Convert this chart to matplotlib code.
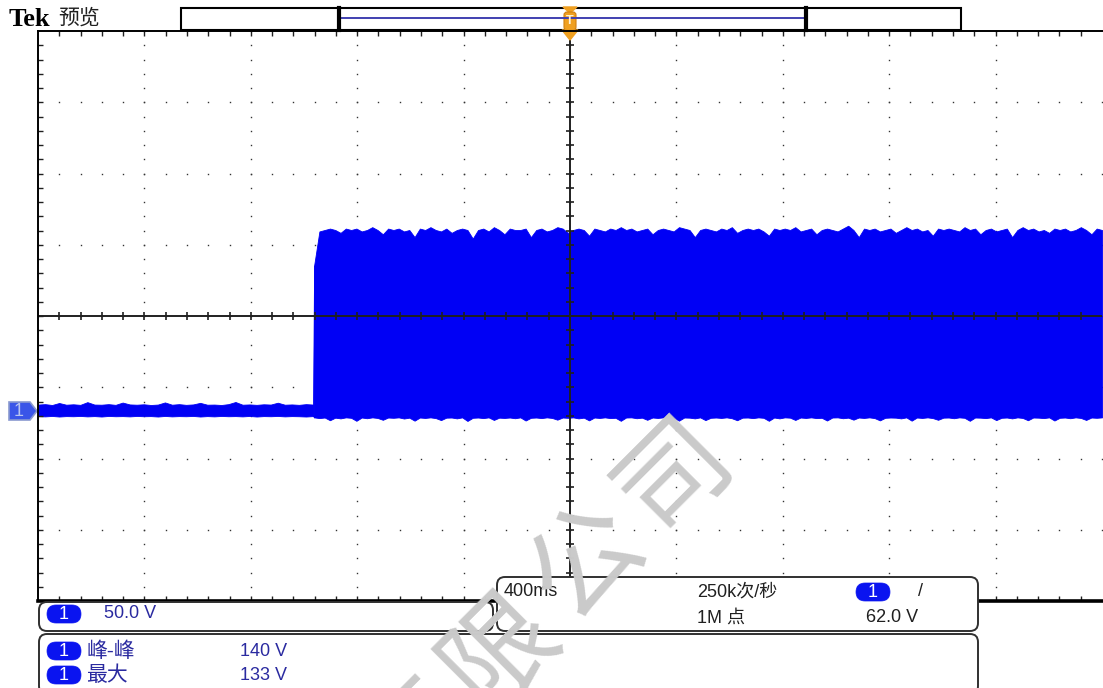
import numpy as np
import matplotlib
matplotlib.use("Agg")
import matplotlib.pyplot as plt
from matplotlib.patches import Rectangle, FancyBboxPatch, Polygon
from matplotlib.markers import TICKUP, TICKDOWN, TICKRIGHT

plt.rcParams['font.family'] = ['Liberation Sans', 'Noto Sans CJK SC', 'DejaVu Sans']

# scope settings
volts_per_div = 50.0
sec_per_div = 0.4
ground_div = -1.333          # ground marker sits 1.33 div below centre
step_time = -0.966           # burst starts here (s)

# channel 1 envelope, volts
pre_hi = [4.5, 4.8, 4.2, 5.6, 4.4, 4.7, 4.3, 6.2, 4.5, 4.4, 4.8, 4.3, 5.9, 4.6, 4.4,
          4.7, 4.2, 4.5, 6.0, 4.4, 4.8, 4.3, 4.6, 5.7, 4.4, 4.5, 4.2, 4.8, 6.3, 4.4,
          4.6, 4.3, 4.7, 4.5, 5.8, 4.4, 4.6, 4.3, 4.8, 4.5]
pre_lo = [-3.6, -3.8, -3.5, -3.9, -3.6, -3.7, -3.5, -3.8, -3.6, -3.9, -3.5, -3.7, -3.6, -3.8, -3.5,
          -3.7, -3.6, -3.9, -3.5, -3.8, -3.6, -3.7, -3.5, -3.9, -3.6, -3.8, -3.5, -3.7, -3.6, -3.8,
          -3.5, -3.9, -3.6, -3.7, -3.5, -3.8, -3.6, -3.7, -3.9, -3.6]
burst_hi = [
    102, 126, 127, 128, 127, 125, 128, 127, 128, 126, 127, 129, 127, 124, 128,
    127, 128, 126, 127, 122, 128, 127, 129, 127, 126, 128, 125, 127, 128, 127,
    121, 127, 128, 126, 129, 127, 124, 128, 127, 127, 128, 122, 127, 128, 126,
    127, 129, 128, 125, 127, 128, 127, 123, 128, 127, 126, 128, 127, 129, 127,
    128, 126, 127, 128, 124, 127, 128, 127, 126, 129, 128, 127, 122, 127, 128,
    127, 126, 128, 127, 129, 125, 127, 128, 127, 128, 126, 123, 128, 127, 128,
    127, 129, 126, 127, 128, 124, 127, 128, 127, 126, 128, 130, 127, 122, 128,
    127, 128, 126, 127, 128, 125, 127, 129, 127, 128, 126, 127, 123, 128, 127,
    128, 127, 126, 129, 127, 128, 124, 127, 128, 126, 127, 128, 122, 127, 129,
    127, 128, 126, 127, 125, 128, 127, 128, 126, 127, 129, 127, 124, 128, 127,
]
burst_lo = [
    -4.5, -5.0, -4.6, -6.5, -4.7, -5.2, -4.5, -4.8, -6.9, -4.6, -5.1, -4.5, -4.9, -6.2, -4.6,
    -4.8, -4.5, -5.3, -4.7, -6.8, -4.6, -4.9, -4.5, -5.0, -6.4, -4.7, -4.6, -5.2, -4.5, -7.0,
    -4.8, -4.6, -5.0, -4.5, -6.3, -4.7, -4.9, -4.6, -5.1, -4.5, -6.7, -4.8, -4.6, -5.0, -4.5,
    -4.9, -6.1, -4.6, -4.8, -4.5, -5.2, -4.7, -6.6, -4.6, -4.9, -4.5, -5.0, -4.8, -6.9, -4.6,
    -4.5, -5.1, -4.7, -6.2, -4.6, -4.9, -4.5, -5.0, -4.8, -6.8, -4.6, -4.7, -5.2, -4.5, -6.4,
    -4.8, -4.6, -4.9, -4.5, -5.1, -6.5, -4.7, -4.6, -5.0, -4.5, -4.8, -6.9, -4.6, -5.2, -4.5,
    -4.7, -6.3, -4.6, -4.9, -4.5, -5.0, -4.8, -6.7, -4.6, -4.5, -5.1, -4.7, -6.1, -4.6, -4.9,
    -4.5, -5.0, -6.6, -4.8, -4.6, -4.7, -5.2, -4.5, -6.8, -4.6, -4.9, -4.5, -5.0, -6.2, -4.7,
    -4.6, -5.1, -4.5, -4.8, -6.9, -4.6, -4.7, -5.0, -4.5, -6.4, -4.8, -4.6, -5.2, -4.5, -4.9,
    -6.5, -4.6, -4.7, -5.0, -4.5, -6.7, -4.8, -4.6, -5.1, -4.5, -4.9, -6.3, -4.6, -4.8, -4.5,
]

# readouts
ch_scale = "50.0 V"
meas_names = ["峰-峰", "最大"]
meas_values = ["140 V", "133 V"]
timebase = "400ms"
sample_rate = "250k次/秒"
record_len = "1M 点"
trig_level = "62.0 V"
watermark = "有限公司"

W, H = 1103, 688
fig = plt.figure(figsize=(W / 100, H / 100), dpi=100)

# graticule area in pixels
gx0, gy0, gw, gh = 38, 31, 1064, 570
ax = fig.add_axes([gx0 / W, 1 - (gy0 + gh) / H, gw / W, gh / H])
ax.set_zorder(1)
ax.set_xlim(-5 * sec_per_div, 5 * sec_per_div)
ax.set_ylim((-4 - ground_div) * volts_per_div, (4 - ground_div) * volts_per_div)
for s in ax.spines.values():
    s.set_visible(False)
ax.set_xticks([])
ax.set_yticks([])

xc = 0.0
yc = -ground_div * volts_per_div
xmaj = np.arange(-5, 6) * sec_per_div
ymaj = yc + np.arange(-4, 5) * volts_per_div
xmin_ = np.arange(-25, 26) * sec_per_div / 5
ymin_ = yc + np.arange(-20, 21) * volts_per_div / 5

# dotted graticule
dot = dict(color='#333333', marker='s', markersize=1.0, markeredgewidth=0,
           linestyle='none', zorder=1)
for x in xmaj[1:-1]:
    ax.plot(np.full(len(ymin_), x), ymin_, **dot)
for y in ymaj[1:-1]:
    ax.plot(xmin_, np.full(len(xmin_), y), **dot)

# waveform
t_pre = np.linspace(-5 * sec_per_div, step_time, len(pre_hi))
t_burst = np.linspace(step_time + 0.004, 5 * sec_per_div, len(burst_hi))
blue = '#0000f5'
ax.fill_between(t_pre, pre_lo, pre_hi, color=blue, lw=0.6, zorder=2)
ax.fill_between(t_burst, burst_lo, burst_hi, color=blue, lw=0.6, zorder=2)
ax.fill_between([t_pre[-1], t_burst[0]], [pre_lo[-1], burst_lo[0]], [pre_hi[-1], burst_hi[0]],
                color=blue, lw=0.6, zorder=2)

# centre crosshair with minor ticks
ax.axhline(yc, color='#202020', lw=1.4, zorder=3)
ax.axvline(xc, color='#202020', lw=1.4, zorder=3)
ax.plot(xmin_[1:-1], np.full(len(xmin_) - 2, yc), color='#202020', marker='|',
        markersize=6, markeredgewidth=1.2, linestyle='none', zorder=3)
ax.plot(np.full(len(ymin_) - 2, xc), ymin_[1:-1], color='#202020', marker='_',
        markersize=6, markeredgewidth=1.2, linestyle='none', zorder=3)
# edge ticks pointing inward
ylo, yhi = ax.get_ylim()
xlo, xhi = ax.get_xlim()
edge = dict(color='#202020', markersize=3.5, markeredgewidth=1.0, linestyle='none',
            zorder=3, clip_on=False)
ax.plot(xmin_[1:-1], np.full(len(xmin_) - 2, yhi), marker=TICKDOWN, **edge)
ax.plot(xmin_[1:-1], np.full(len(xmin_) - 2, ylo), marker=TICKUP, **edge)
ax.plot(np.full(len(ymin_) - 2, xlo), ymin_[1:-1], marker=TICKRIGHT, **edge)

# overlay in pixel coordinates
deco = fig.add_axes([0, 0, 1, 1])
deco.set_zorder(2)
deco.patch.set_alpha(0)
deco.set_xlim(0, W)
deco.set_ylim(H, 0)
deco.axis('off')

# graticule borders
deco.plot([gx0, W], [gy0, gy0], color='black', lw=1.4)
deco.plot([gx0, gx0], [gy0, gy0 + gh], color='black', lw=1.4)
deco.plot([gx0, W], [gy0 + gh, gy0 + gh], color='black', lw=2.6)

# title
deco.text(9, 20, "Tek", fontsize=19, fontweight='bold', family='Liberation Serif',
          va='center', ha='left')
deco.text(58, 18, "预览", fontsize=15, family='Noto Sans CJK SC', va='center', ha='left',
          color='#202020')

# record view bar
deco.add_patch(Rectangle((181, 8), 780, 22, fill=False, ec='black', lw=1.5))
deco.plot([340, 806], [18, 18], color='#4040b0', lw=1.4)
deco.plot([339, 339], [8, 30], color='black', lw=3)
deco.plot([806, 806], [8, 30], color='black', lw=3)

# trigger position marker
orange = '#f0a020'
deco.add_patch(Polygon([(563, 7), (577, 7), (570, 13)], color=orange))
deco.add_patch(FancyBboxPatch((564, 12), 12, 18, boxstyle='round,pad=0,rounding_size=3',
                              fc=orange, ec='#d08010', lw=0.8))
deco.text(570, 21.5, "T", fontsize=9, color='#fff4d8', ha='center', va='center', fontweight='bold')
deco.add_patch(Polygon([(562, 30), (578, 30), (570, 40)], color=orange))

# ground marker
deco.add_patch(Polygon([(9, 402), (30, 402), (37, 411), (30, 420), (9, 420)],
                       fc='#3a55e8', ec='#8a9ad0', lw=1.2))
deco.text(19, 411.5, "1", fontsize=13, color='#b8c4f0', ha='center', va='center')

# readout boxes
def rbox(x, y, w, h):
    deco.add_patch(FancyBboxPatch((x, y), w, h, boxstyle='round,pad=0,rounding_size=8',
                                  fc='white', ec='#303030', lw=1.4, zorder=3))

def badge(x, y):
    deco.add_patch(FancyBboxPatch((x, y - 9), 34, 18, boxstyle='round,pad=0,rounding_size=9',
                                  fc='#0a14f0', ec='#0a14f0', lw=0.5, zorder=4))
    deco.text(x + 17, y + 0.5, "1", fontsize=13, color='white', ha='center', va='center', zorder=5)

navy = '#2a2aa0'
rbox(39, 602, 454, 29)
badge(47, 614)
deco.text(104, 614, ch_scale, fontsize=13, color=navy, va='center', zorder=5)

rbox(39, 634, 939, 60)
for i, (name, val) in enumerate(zip(meas_names, meas_values)):
    yy = 651 + 24 * i
    badge(47, yy)
    deco.text(86, yy, name, fontsize=15, color=navy, va='center', zorder=5)
    deco.text(240, yy, val, fontsize=13, color=navy, va='center', zorder=5)

rbox(497, 577, 481, 54)
deco.text(504, 592, timebase, fontsize=13, color='#202020', va='center', zorder=5)
deco.text(697, 592, sample_rate, fontsize=13, color='#202020', va='center', zorder=5)
deco.text(697, 618, record_len, fontsize=13, color='#202020', va='center', zorder=5)
badge(856, 592)
deco.text(918, 592, "/", fontsize=13, color='#202020', va='center', zorder=5)
deco.text(866, 618, trig_level, fontsize=13, color='#202020', va='center', zorder=5)

# watermark, one character per step along the diagonal
for i, ch in enumerate(watermark):
    cx = 413 + 87 * i
    cy = 738 - 88 * i
    deco.text(cx, cy, ch, fontsize=80, family='Noto Sans CJK SC', fontweight='light',
              color='#cacaca', rotation=45, ha='center', va='center', zorder=6)

fig.savefig("out.png", dpi=100)
